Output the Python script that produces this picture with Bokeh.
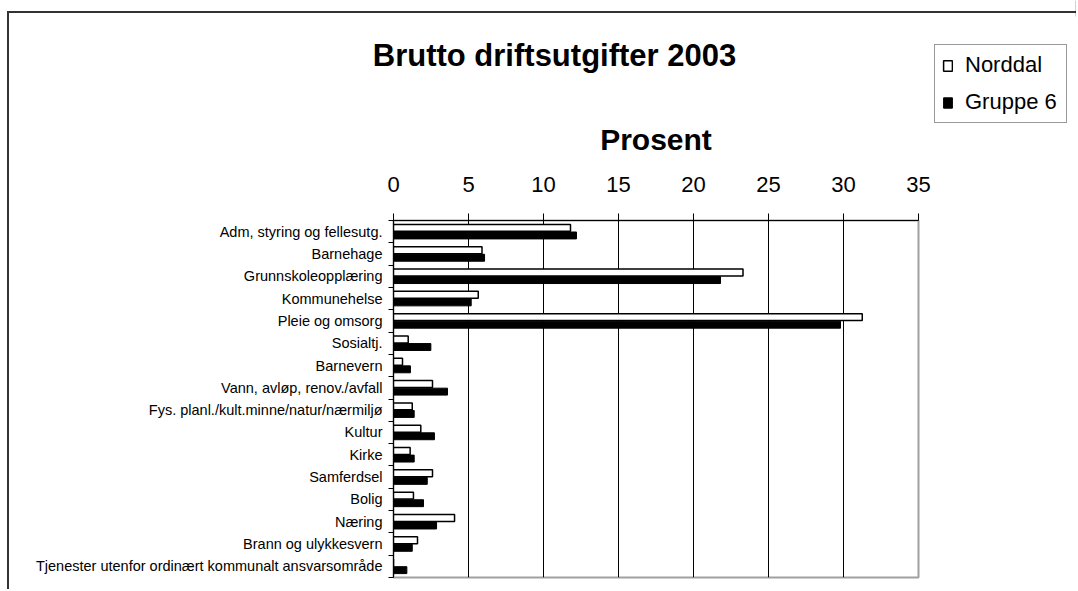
from bokeh.plotting import figure
from bokeh.layouts import column
from bokeh.models import (ColumnDataSource, Range1d, LinearAxis, FixedTicker, Legend, LegendItem)
from bokeh.core.properties import value
from bokeh.transform import dodge
from bokeh.embed import file_html
from bokeh.resources import INLINE

# ---- data ----
categories = [
    "Adm, styring og fellesutg.", "Barnehage", "Grunnskoleopplæring", "Kommunehelse",
    "Pleie og omsorg", "Sosialtj.", "Barnevern", "Vann, avløp, renov./avfall",
    "Fys. planl./kult.minne/natur/nærmiljø", "Kultur", "Kirke", "Samferdsel", "Bolig",
    "Næring", "Brann og ulykkesvern", "Tjenester utenfor ordinært kommunalt ansvarsområde",
]
norddal = [11.8, 5.9, 23.3, 5.65, 31.25, 0.98, 0.6, 2.6, 1.25, 1.82, 1.11, 2.6, 1.33, 4.07, 1.6, 0.0]
gruppe6 = [12.2, 6.07, 21.8, 5.18, 29.8, 2.49, 1.13, 3.6, 1.38, 2.73, 1.38, 2.25, 2.0, 2.87, 1.25, 0.89]
x_ticks = [0, 5, 10, 15, 20, 25, 30, 35]
series_names = ["Norddal", "Gruppe 6"]
title_text = "Brutto driftsutgifter 2003"
axis_title = "Prosent"

FONT = "Liberation Sans"
n = len(categories)
centers = [i + 0.5 for i in range(n)]

src = ColumnDataSource(dict(cat=categories, pos=centers, norddal=norddal, gruppe6=gruppe6))

W, H = 1076, 589
p = figure(width=W, height=H, output_backend="svg", toolbar_location=None,
           title_location=None,
           y_range=Range1d(n, 0), x_range=Range1d(0, 35),
           x_axis_location="above", y_axis_location=None)
if "frame_align" in p.properties():
    p.frame_align = False

p.min_border_left = 393
p.min_border_right = W - 918
p.min_border_top = 220
p.min_border_bottom = H - 577
p.outline_line_color = "#a0a0a0"
p.outline_line_width = 2
p.background_fill_color = "white"
p.border_fill_alpha = 0
p.styles = {
    "background": "linear-gradient(#333,#333) 8px 11px / 1070px 2px no-repeat, "
                  "linear-gradient(#333,#333) 7px 11px / 2px 600px no-repeat, white",
}

# top x axis
xa = p.xaxis[0]
xa.ticker = FixedTicker(ticks=x_ticks)
xa.major_tick_out = 7
xa.major_tick_in = 0
xa.minor_tick_line_color = None
xa.axis_line_color = "black"
xa.major_tick_line_color = "black"
xa.major_label_text_font = FONT
xa.major_label_text_font_size = "22px"
xa.major_label_text_color = "black"
xa.major_label_standoff = 22
xa.axis_label = axis_title
xa.axis_label_text_font = FONT
xa.axis_label_text_font_size = "30px"
xa.axis_label_text_font_style = "bold"
xa.axis_label_text_color = "black"
xa.axis_label_standoff = 18

p.xgrid.ticker = FixedTicker(ticks=x_ticks[1:-1])
p.xgrid.grid_line_color = "black"
p.xgrid.grid_line_width = 1
p.ygrid.visible = False

# left axes: boundary ticks + category labels
bounds = list(range(n + 1))
tick_axis = LinearAxis(ticker=FixedTicker(ticks=bounds),
                       major_label_overrides={b: "" for b in bounds},
                       major_label_text_font_size="0px", major_label_standoff=0,
                       major_tick_out=5, major_tick_in=0, minor_tick_line_color=None,
                       axis_line_color="black", major_tick_line_color="black")
p.add_layout(tick_axis, "left")
cat_axis = LinearAxis(ticker=FixedTicker(ticks=centers),
                      major_label_overrides={c: name for c, name in zip(centers, categories)},
                      axis_line_color=None, major_tick_line_color=None, minor_tick_line_color=None,
                      major_tick_out=0, major_tick_in=0, minor_tick_out=0, minor_tick_in=0,
                      major_label_standoff=6,
                      major_label_text_font=FONT, major_label_text_font_size="14.5px",
                      major_label_text_color="black")
p.add_layout(cat_axis, "left")

# bars
r1 = p.hbar(y=dodge("pos", -0.17), left=0, right="norddal", height=0.31,
            source=src, fill_color="white", line_color="black", line_width=1.5)
r2 = p.hbar(y=dodge("pos", 0.17), left=0, right="gruppe6", height=0.31,
            source=src, fill_color="black", line_color="black", line_width=1)

# overlay figure for the title and the legend (above the plot area)
OW, OH = W, 140
ov = figure(width=OW, height=OH, output_backend="svg", toolbar_location=None,
            x_axis_location=None, y_axis_location=None, title_location=None,
            x_range=Range1d(0, OW), y_range=Range1d(OH, 0), min_border=0,
            sizing_mode="fixed")
if "frame_align" in ov.properties():
    ov.frame_align = False
ov.grid.visible = False
ov.outline_line_color = None
ov.background_fill_alpha = 0
ov.border_fill_alpha = 0

ov.text(x=[554], y=[55], text=[title_text], text_align="center", text_baseline="middle",
        text_font=value(FONT), text_font_size="31px", text_font_style="bold",
        text_color="black")

# same series on a hidden range: only their legend swatches show
ov.extra_x_ranges = {"hide": Range1d(-10, -9)}
l1 = ov.hbar(y="pos", right="norddal", left=0, height=0.31, source=src, x_range_name="hide",
             fill_color="white", line_color="black", line_width=1.5)
l2 = ov.hbar(y="pos", right="gruppe6", left=0, height=0.31, source=src, x_range_name="hide",
             fill_color="black", line_color="black", line_width=1)
legend = Legend(items=[LegendItem(label=series_names[0], renderers=[l1]),
                       LegendItem(label=series_names[1], renderers=[l2])],
                location=(934, OH - 123), orientation="vertical",
                label_text_font=FONT, label_text_font_size="22px", label_text_color="black",
                glyph_width=11, glyph_height=13, label_standoff=12, label_height=24,
                label_width=94, spacing=11, padding=7, margin=0,
                border_line_color="#333333", border_line_width=1,
                background_fill_color="white", background_fill_alpha=1)
ov.add_layout(legend, "center")
ov.styles = {"position": "absolute", "left": "0px", "top": "0px",
             "width": f"{OW}px", "height": f"{OH}px"}

layout = column(p, ov, styles={"overflow": "hidden"})
open("out.html", "w").write(file_html(layout, INLINE))
